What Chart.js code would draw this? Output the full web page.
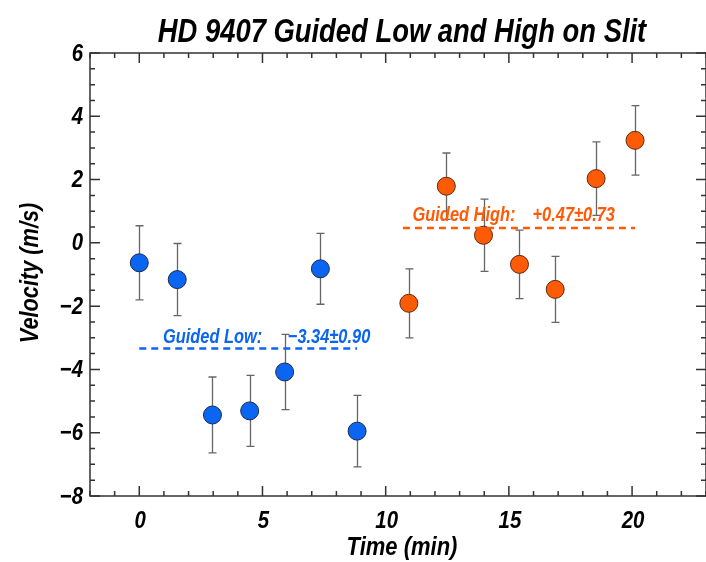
<!DOCTYPE html>
<html lang="en">
<head>
    <meta charset="UTF-8">
    <title>HD 9407 Guided Low and High on Slit</title>
    <style>
        html, body { margin: 0; padding: 0; background: #ffffff; }
        #chart { display: block; }
    </style>
    <script src="https://cdn.jsdelivr.net/npm/chart.js"></script>
</head>
<body>
    <canvas id="chart" width="706" height="562"></canvas>

    <script>
        // guided low (blue) points: time in minutes, velocity in m/s, 1-sigma error
        const lowTime = [0.0, 1.54, 2.97, 4.48, 5.90, 7.35, 8.84];
        const lowVel = [-0.63, -1.16, -5.44, -5.31, -4.08, -0.82, -5.95];
        const lowErr = [1.17, 1.14, 1.20, 1.12, 1.19, 1.12, 1.13];

        // guided high (orange) points
        const highTime = [10.94, 12.46, 13.97, 15.43, 16.88, 18.54, 20.12];
        const highVel = [-1.91, 1.79, 0.24, -0.68, -1.47, 2.03, 3.24];
        const highErr = [1.09, 1.05, 1.14, 1.08, 1.04, 1.16, 1.10];

        // mean lines
        const lowMeanTime = [0.0, 8.84];
        const lowMean = [-3.34, -3.34];
        const highMeanTime = [10.7, 20.12];
        const highMean = [0.47, 0.47];

        const xTicks = [0, 5, 10, 15, 20];
        const yTicks = [-8, -6, -4, -2, 0, 2, 4, 6];

        const FONT = "'Liberation Sans', Arial, sans-serif";
        const BLUE = "#0a66f2";
        const ORANGE = "#ff5a06";

        function pts(xs, ys) {
            return xs.map((x, i) => ({ x: x, y: ys[i] }));
        }

        // squeezed text, the original uses a condensed face
        function narrowText(ctx, text, x, y, sx) {
            ctx.save();
            ctx.translate(x, y);
            ctx.scale(sx, 1);
            ctx.fillText(text, 0, 0);
            ctx.restore();
        }

        // error bars, drawn under the points
        const errorBars = {
            id: "errorBars",
            beforeDatasetsDraw(chart) {
                const ctx = chart.ctx;
                const xs = chart.scales.x, ys = chart.scales.y;
                ctx.save();
                ctx.strokeStyle = "#666";
                ctx.lineWidth = 1.3;
                const draw = (t, v, e) => {
                    t.forEach((tt, i) => {
                        const px = Math.round(xs.getPixelForValue(tt)) + 0.5;
                        const top = ys.getPixelForValue(v[i] + e[i]);
                        const bot = ys.getPixelForValue(v[i] - e[i]);
                        ctx.beginPath();
                        ctx.moveTo(px, top); ctx.lineTo(px, bot);
                        ctx.moveTo(px - 4, top); ctx.lineTo(px + 4, top);
                        ctx.moveTo(px - 4, bot); ctx.lineTo(px + 4, bot);
                        ctx.stroke();
                    });
                };
                draw(lowTime, lowVel, lowErr);
                draw(highTime, highVel, highErr);
                ctx.restore();
            }
        };

        // box frame with inward major/minor ticks, labels, titles and annotations
        const frame = {
            id: "frame",
            afterDraw(chart) {
                const ctx = chart.ctx;
                const a = chart.chartArea;
                const xs = chart.scales.x, ys = chart.scales.y;
                ctx.save();
                ctx.strokeStyle = "#333";
                ctx.lineWidth = 1.5;
                ctx.strokeRect(a.left, a.top, a.right - a.left, a.bottom - a.top);

                ctx.beginPath();
                for (let t = -2; t <= 23; t++) {
                    const px = xs.getPixelForValue(t);
                    const len = t % 5 === 0 ? 10 : 5;
                    ctx.moveTo(px, a.bottom); ctx.lineTo(px, a.bottom - len);
                    ctx.moveTo(px, a.top); ctx.lineTo(px, a.top + len);
                }
                for (let v = -8; v <= 6; v += 0.5) {
                    const py = ys.getPixelForValue(v);
                    const len = v % 2 === 0 ? 10 : 5;
                    ctx.moveTo(a.left, py); ctx.lineTo(a.left + len, py);
                    ctx.moveTo(a.right, py); ctx.lineTo(a.right - len, py);
                }
                ctx.stroke();

                ctx.fillStyle = "#000";
                ctx.textBaseline = "middle";

                // tick labels
                ctx.font = "italic bold 24px " + FONT;
                ctx.textAlign = "center";
                xTicks.forEach(v => narrowText(ctx, String(v), xs.getPixelForValue(v) + 1, 521, 0.85));
                ctx.textAlign = "right";
                yTicks.forEach(v => narrowText(ctx, String(v).replace("-", "\u2212"), 83, ys.getPixelForValue(v) + 1, 0.85));

                // title
                ctx.textAlign = "center";
                ctx.textBaseline = "alphabetic";
                ctx.font = "italic bold 33px " + FONT;
                narrowText(ctx, "HD 9407 Guided Low and High on Slit", 402, 42, 0.83);

                // axis titles
                ctx.font = "italic bold 25px " + FONT;
                ctx.textBaseline = "middle";
                narrowText(ctx, "Time (min)", 402, 548, 0.88);
                ctx.save();
                ctx.translate(31, 273);
                ctx.rotate(-Math.PI / 2);
                narrowText(ctx, "Velocity (m/s)", 0, 0, 0.87);
                ctx.restore();

                // mean annotations
                ctx.font = "italic bold 20px " + FONT;
                ctx.textAlign = "left";
                ctx.fillStyle = BLUE;
                narrowText(ctx, "Guided Low:", xs.getPixelForValue(0.96), ys.getPixelForValue(-2.98), 0.82);
                narrowText(ctx, "\u22123.34\u00b10.90", xs.getPixelForValue(6.03), ys.getPixelForValue(-2.98), 0.82);
                ctx.fillStyle = ORANGE;
                narrowText(ctx, "Guided High:", xs.getPixelForValue(11.09), ys.getPixelForValue(0.875), 0.82);
                narrowText(ctx, "+0.47\u00b10.73", xs.getPixelForValue(15.96), ys.getPixelForValue(0.875), 0.82);
                ctx.restore();
            }
        };

        new Chart(document.getElementById("chart"), {
            type: "scatter",
            data: {
                datasets: [
                    {
                        type: "line",
                        data: pts(lowMeanTime, lowMean),
                        borderColor: BLUE,
                        borderWidth: 2.5,
                        borderDash: [7, 5],
                        pointRadius: 0,
                        fill: false
                    },
                    {
                        type: "line",
                        data: pts(highMeanTime, highMean),
                        borderColor: ORANGE,
                        borderWidth: 2.5,
                        borderDash: [7, 5],
                        pointRadius: 0,
                        fill: false
                    },
                    {
                        label: "Guided Low",
                        data: pts(lowTime, lowVel),
                        backgroundColor: BLUE,
                        borderColor: "#1c2a4a",
                        borderWidth: 1,
                        pointRadius: 9
                    },
                    {
                        label: "Guided High",
                        data: pts(highTime, highVel),
                        backgroundColor: ORANGE,
                        borderColor: "#5a2a10",
                        borderWidth: 1,
                        pointRadius: 9
                    }
                ]
            },
            options: {
                responsive: false,
                devicePixelRatio: 1,
                animation: false,
                layout: { autoPadding: false, padding: { top: 53, right: 0, left: 0, bottom: 0 } },
                plugins: {
                    legend: { display: false },
                    tooltip: { enabled: false }
                },
                scales: {
                    x: {
                        type: "linear",
                        min: -2,
                        max: 23,
                        grid: { display: false },
                        border: { display: false },
                        ticks: { display: false },
                        afterFit: (s) => { s.height = 66; }
                    },
                    y: {
                        min: -8,
                        max: 6,
                        grid: { display: false },
                        border: { display: false },
                        ticks: { display: false },
                        afterFit: (s) => { s.width = 90; }
                    }
                }
            },
            plugins: [errorBars, frame]
        });
    </script>
</body>
</html>
